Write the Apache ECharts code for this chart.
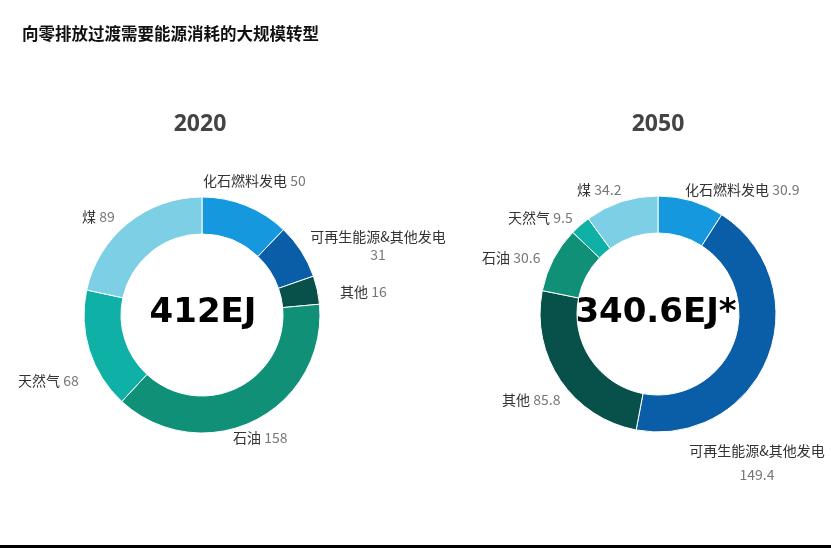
<!DOCTYPE html>
<html>
<head>
<meta charset="utf-8">
<title>向零排放过渡需要能源消耗的大规模转型</title>
<script src="https://cdn.jsdelivr.net/npm/echarts@6/dist/echarts.min.js"></script>
<style>
  html, body { margin: 0; padding: 0; background: #fff; }
  #main { width: 831px; height: 548px; }
</style>
</head>
<body>
<div id="main"></div>
<script>
// 能源类别（顺时针，自正上方开始）
var names = ['化石燃料发电', '可再生能源&其他发电', '其他', '石油', '天然气', '煤'];
var colors = ['#1598dd', '#0a5ea8', '#07514a', '#119078', '#0fb1a6', '#7dcfe6'];
var values2020 = [50, 31, 16, 158, 68, 89];
var values2050 = [30.9, 149.4, 85.8, 30.6, 9.5, 34.2];
var years = ['2020', '2050'];
var totals = ['412EJ', '340.6EJ*'];

// 标签摆放位置（原图中为手工放置）
var labelPos2020 = [[203, 181, 'left'], [378, 246, 'center'], [340, 292, 'left'],
                    [233, 438, 'left'], [18, 381, 'left'], [82, 217, 'left']];
var labelPos2050 = [[685, 190, 'left'], [757, 463, 'center'], [502, 400, 'left'],
                    [482, 258, 'left'], [508, 218, 'left'], [577, 190, 'left']];

var chart = echarts.init(document.getElementById('main'));

function makeData(vals) {
  return names.map(function (n, i) {
    return { name: n, value: vals[i], itemStyle: { color: colors[i] } };
  });
}

function fmt(p) {
  if (p.name === '可再生能源&其他发电') {
    return '{n|' + p.name + '}\n{v|' + p.value + '}';
  }
  return '{n|' + p.name + '} {v|' + p.value + '}';
}

function makeSeries(vals, cx, cy, pos, lh) {
  return {
    type: 'pie',
    center: [cx, cy],
    radius: [81, 118],
    startAngle: 90,
    clockwise: true,
    avoidLabelOverlap: false,
    itemStyle: { borderColor: '#fff', borderWidth: 1 },
    label: {
      show: true,
      position: 'outside',
      formatter: fmt,
      rich: {
        n: { fontSize: 14, color: '#333', fontFamily: 'Noto Sans CJK SC', lineHeight: lh },
        v: { fontSize: 14, color: '#777', fontFamily: 'Noto Sans CJK SC', lineHeight: lh }
      }
    },
    labelLine: { show: false },
    labelLayout: function (p) {
      var q = pos[p.dataIndex];
      return { x: q[0], y: q[1], align: q[2], verticalAlign: 'middle' };
    },
    emphasis: { disabled: true },
    data: makeData(vals)
  };
}

function bigText(txt, x, y, size, color, family) {
  return {
    type: 'text', x: x, y: y,
    style: {
      text: txt, fill: color, font: 'bold ' + size + 'px ' + family,
      align: 'center', verticalAlign: 'middle'
    }
  };
}

chart.setOption({
  backgroundColor: '#fff',
  animation: false,
  title: {
    text: '向零排放过渡需要能源消耗的大规模转型',
    left: 17, top: 20,
    textStyle: { fontSize: 16.5, fontWeight: 'bold', color: '#111', fontFamily: 'Noto Sans CJK SC' }
  },
  series: [
    makeSeries(values2020, 202, 315, labelPos2020, 18),
    makeSeries(values2050, 658, 314, labelPos2050, 24)
  ],
  graphic: [
    bigText(years[0], 200, 124, 23, '#444', '"Noto Sans"'),
    bigText(years[1], 658, 124, 23, '#444', '"Noto Sans"'),
    bigText(totals[0], 203, 313, 34, '#000', '"DejaVu Sans"'),
    bigText(totals[1], 656, 313, 34, '#000', '"DejaVu Sans"'),
    {
      type: 'rect',
      shape: { x: 0, y: 545, width: 831, height: 3 },
      style: { fill: '#000' }
    }
  ]
});
</script>
</body>
</html>
